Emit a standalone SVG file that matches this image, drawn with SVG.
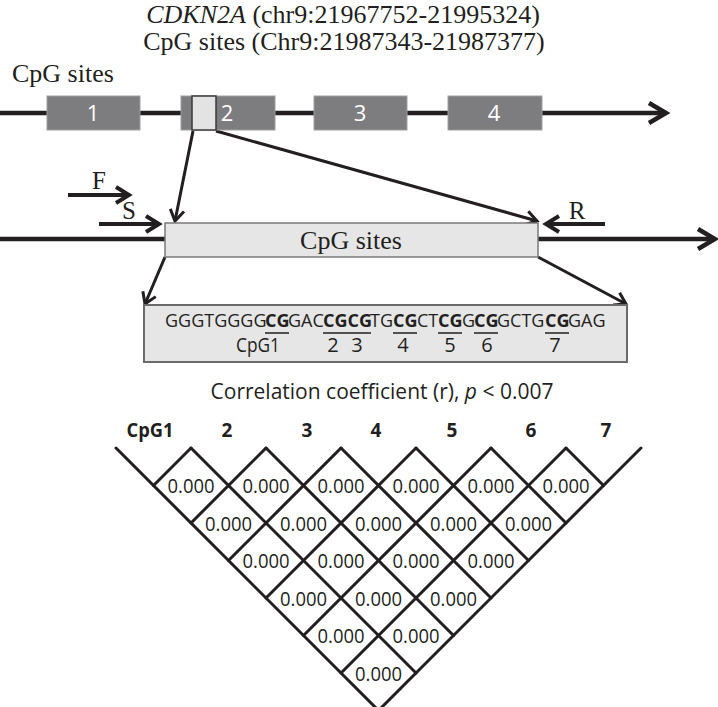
<svg xmlns="http://www.w3.org/2000/svg" width="718" height="707" viewBox="0 0 718 707">
<style>
.serif{font-family:"Liberation Serif","Times New Roman",serif;fill:#231f20}
.sans{font-family:"Open Sans","Liberation Sans",sans-serif;fill:#231f20}
.exon{fill:#7d7d7f;stroke:#a0a0a0;stroke-width:1}
.exnum{font-family:"Open Sans","Liberation Sans",sans-serif;font-size:22px;fill:#ffffff;text-anchor:middle}
.ln{stroke:#231f20;fill:none;stroke-linecap:butt}
.grid{stroke:#231f20;stroke-width:3;fill:none;stroke-linecap:round}
.cell{font-family:"Open Sans","Liberation Sans",sans-serif;font-size:20px;fill:#231f20;text-anchor:middle}
.hdr{font-family:"Open Sans","Liberation Sans",sans-serif;font-size:19px;font-weight:bold;fill:#231f20;text-anchor:middle}
.seq{font-family:"Open Sans","Liberation Sans",sans-serif;font-size:18px;fill:#231f20}
.b{font-weight:bold}
.num{font-family:"Open Sans","Liberation Sans",sans-serif;font-size:20px;fill:#231f20;text-anchor:middle}
</style>
<defs>
<marker id="hLg" markerUnits="userSpaceOnUse" viewBox="-4 -4 28 28" markerWidth="28" markerHeight="28" refX="18" refY="10" orient="auto" style="overflow:visible">
<path d="M1,0 L18,10 L1,20" fill="none" stroke="#231f20" stroke-width="4.5"/>
</marker>
<marker id="hMd" markerUnits="userSpaceOnUse" viewBox="-4 -4 24 24" markerWidth="24" markerHeight="24" refX="14" refY="8" orient="auto" style="overflow:visible">
<path d="M1,0 L14,8 L1,16" fill="none" stroke="#231f20" stroke-width="4"/>
</marker>
<marker id="hSm" markerUnits="userSpaceOnUse" viewBox="-4 -4 22 22" markerWidth="22" markerHeight="22" refX="12" refY="7" orient="auto" style="overflow:visible">
<path d="M1,0 L12,7 L1,14" fill="none" stroke="#231f20" stroke-width="3"/>
</marker>
</defs>

<g id="title">
<text class="serif" x="343" y="23" font-size="26" text-anchor="middle"><tspan font-style="italic">CDKN2A</tspan> (chr9:21967752-21995324)</text>
<text class="serif" x="344" y="50" font-size="26" text-anchor="middle">CpG sites (Chr9:21987343-21987377)</text>
</g>

<g id="cpg-label">
<text class="serif" x="12" y="82" font-size="26">CpG sites</text>
</g>

<g id="connectors">
<line class="ln" x1="0" y1="113" x2="666" y2="113" stroke-width="4.5" marker-end="url(#hLg)"/>
<line class="ln" x1="0" y1="239" x2="165" y2="239" stroke-width="4.5"/>
<line class="ln" x1="538" y1="239" x2="715" y2="239" stroke-width="4.5" marker-end="url(#hLg)"/>
<line class="ln" x1="193" y1="131" x2="175" y2="221" stroke-width="3" marker-end="url(#hSm)"/>
<line class="ln" x1="216" y1="131" x2="537" y2="221" stroke-width="3" marker-end="url(#hSm)"/>
<line class="ln" x1="165" y1="257" x2="145" y2="304" stroke-width="3" marker-end="url(#hSm)"/>
<line class="ln" x1="538" y1="257" x2="626" y2="304" stroke-width="3" marker-end="url(#hSm)"/>
<line class="ln" x1="68" y1="195" x2="129" y2="195" stroke-width="4" marker-end="url(#hMd)"/>
<line class="ln" x1="99" y1="224" x2="159" y2="224" stroke-width="4" marker-end="url(#hMd)"/>
<line class="ln" x1="605" y1="224" x2="546" y2="224" stroke-width="4" marker-end="url(#hMd)"/>
</g>

<g id="exon1"><rect class="exon" x="47" y="96" width="93" height="34"/><text class="exnum" x="93" y="121">1</text></g>
<g id="exon2"><rect class="exon" x="181" y="96" width="94" height="34"/><rect x="192" y="96" width="24" height="34" fill="#e3e3e3" stroke="#3a3a3a" stroke-width="1.5"/><text class="exnum" x="227" y="121">2</text></g>
<g id="exon3"><rect class="exon" x="314" y="96" width="93" height="34"/><text class="exnum" x="360" y="121">3</text></g>
<g id="exon4"><rect class="exon" x="448" y="96" width="94" height="34"/><text class="exnum" x="494" y="121">4</text></g>

<g id="primer-F"><text class="serif" x="99" y="189" font-size="25" text-anchor="middle">F</text></g>
<g id="primer-S"><text class="serif" x="129" y="219" font-size="25" text-anchor="middle">S</text></g>
<g id="primer-R"><text class="serif" x="577" y="219" font-size="25" text-anchor="middle">R</text></g>

<g id="region">
<rect x="165" y="223" width="373" height="34" fill="#e6e6e6" stroke="#7a7a7a" stroke-width="1.5"/>
<text class="serif" x="351" y="249" font-size="26" text-anchor="middle">CpG sites</text>
</g>

<g id="sequence">
<rect x="144" y="305" width="483" height="57" fill="#e6e6e6" stroke="#6a6a6a" stroke-width="2"/>
<text class="seq" y="327"><tspan x="165">GGGTGGGG</tspan><tspan class="b" x="265">CG</tspan><tspan x="288">GAC</tspan><tspan class="b" x="323">CGCG</tspan><tspan x="370">TG</tspan><tspan class="b" x="393">CG</tspan><tspan x="417">CT</tspan><tspan class="b" x="438">CG</tspan><tspan x="462">G</tspan><tspan class="b" x="474">CG</tspan><tspan x="497">GCTG</tspan><tspan class="b" x="545">CG</tspan><tspan x="568">GAG</tspan></text>
<g stroke="#231f20" stroke-width="1.5">
<line x1="265" y1="333" x2="289" y2="333"/>
<line x1="323" y1="333" x2="371" y2="333"/>
<line x1="393" y1="333" x2="417" y2="333"/>
<line x1="438" y1="333" x2="462" y2="333"/>
<line x1="474" y1="333" x2="498" y2="333"/>
<line x1="545" y1="333" x2="569" y2="333"/>
</g>
<text class="num" x="258" y="352" textLength="44" lengthAdjust="spacingAndGlyphs">CpG1</text>
<text class="num" x="333" y="352">2</text>
<text class="num" x="357" y="352">3</text>
<text class="num" x="403" y="352">4</text>
<text class="num" x="450" y="352">5</text>
<text class="num" x="487" y="352">6</text>
<text class="num" x="555" y="352">7</text>
</g>

<g id="corr-title">
<text class="sans" x="382" y="399" font-size="21" text-anchor="middle">Correlation coefficient (r), <tspan font-style="italic">p</tspan> &lt; 0.007</text>
</g>

<g id="corr-headers">
<text class="hdr" x="150" y="437" textLength="47" lengthAdjust="spacingAndGlyphs">CpG1</text>
<text class="hdr" x="227" y="437">2</text>
<text class="hdr" x="307" y="437">3</text>
<text class="hdr" x="376" y="437">4</text>
<text class="hdr" x="452" y="437">5</text>
<text class="hdr" x="531" y="437">6</text>
<text class="hdr" x="606" y="437">7</text>
</g>

<g id="corr-grid" class="grid">
<line x1="116" y1="448" x2="378.5" y2="710.5"/>
<line x1="191" y1="448" x2="416" y2="673"/>
<line x1="266" y1="448" x2="453.5" y2="635.5"/>
<line x1="341" y1="448" x2="491" y2="598"/>
<line x1="416" y1="448" x2="528.5" y2="560.5"/>
<line x1="491" y1="448" x2="566" y2="523"/>
<line x1="566" y1="448" x2="603.5" y2="485.5"/>
<line x1="191" y1="448" x2="153.5" y2="485.5"/>
<line x1="266" y1="448" x2="191" y2="523"/>
<line x1="341" y1="448" x2="228.5" y2="560.5"/>
<line x1="416" y1="448" x2="266" y2="598"/>
<line x1="491" y1="448" x2="303.5" y2="635.5"/>
<line x1="566" y1="448" x2="341" y2="673"/>
<line x1="641" y1="448" x2="378.5" y2="710.5"/>
</g>

<g id="corr-cells">
<text class="cell" x="191" y="493" textLength="47" lengthAdjust="spacingAndGlyphs">0.000</text>
<text class="cell" x="266" y="493" textLength="47" lengthAdjust="spacingAndGlyphs">0.000</text>
<text class="cell" x="341" y="493" textLength="47" lengthAdjust="spacingAndGlyphs">0.000</text>
<text class="cell" x="416" y="493" textLength="47" lengthAdjust="spacingAndGlyphs">0.000</text>
<text class="cell" x="491" y="493" textLength="47" lengthAdjust="spacingAndGlyphs">0.000</text>
<text class="cell" x="566" y="493" textLength="47" lengthAdjust="spacingAndGlyphs">0.000</text>
<text class="cell" x="228.5" y="530.5" textLength="47" lengthAdjust="spacingAndGlyphs">0.000</text>
<text class="cell" x="303.5" y="530.5" textLength="47" lengthAdjust="spacingAndGlyphs">0.000</text>
<text class="cell" x="378.5" y="530.5" textLength="47" lengthAdjust="spacingAndGlyphs">0.000</text>
<text class="cell" x="453.5" y="530.5" textLength="47" lengthAdjust="spacingAndGlyphs">0.000</text>
<text class="cell" x="528.5" y="530.5" textLength="47" lengthAdjust="spacingAndGlyphs">0.000</text>
<text class="cell" x="266" y="568" textLength="47" lengthAdjust="spacingAndGlyphs">0.000</text>
<text class="cell" x="341" y="568" textLength="47" lengthAdjust="spacingAndGlyphs">0.000</text>
<text class="cell" x="416" y="568" textLength="47" lengthAdjust="spacingAndGlyphs">0.000</text>
<text class="cell" x="491" y="568" textLength="47" lengthAdjust="spacingAndGlyphs">0.000</text>
<text class="cell" x="303.5" y="605.5" textLength="47" lengthAdjust="spacingAndGlyphs">0.000</text>
<text class="cell" x="378.5" y="605.5" textLength="47" lengthAdjust="spacingAndGlyphs">0.000</text>
<text class="cell" x="453.5" y="605.5" textLength="47" lengthAdjust="spacingAndGlyphs">0.000</text>
<text class="cell" x="341" y="643" textLength="47" lengthAdjust="spacingAndGlyphs">0.000</text>
<text class="cell" x="416" y="643" textLength="47" lengthAdjust="spacingAndGlyphs">0.000</text>
<text class="cell" x="378.5" y="680.5" textLength="47" lengthAdjust="spacingAndGlyphs">0.000</text>
</g>
</svg>
